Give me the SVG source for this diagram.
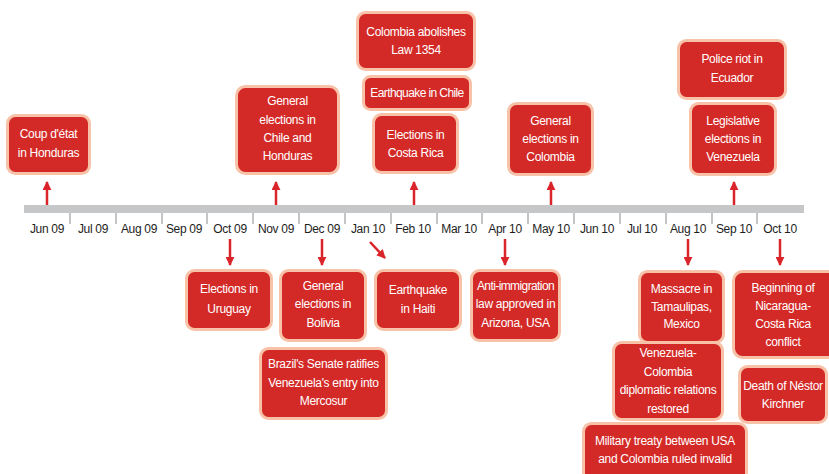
<svg xmlns="http://www.w3.org/2000/svg" width="829" height="474" viewBox="0 0 829 474">
<style>
.box{fill:#d42a27;stroke:#f7c2a8;stroke-width:3}
.t{font-family:"Liberation Sans",Arial,sans-serif;font-size:12px;letter-spacing:-0.3px;fill:#ffffff;text-anchor:middle}
.n{letter-spacing:-0.6px}
.m{font-family:"Liberation Sans",Arial,sans-serif;font-size:12px;letter-spacing:-0.3px;fill:#1e1e1e;text-anchor:middle}
.tick{stroke:#c4c5c7;stroke-width:2}
.arr{stroke:#d9252a;stroke-width:2.5;fill:none}
</style>
<defs>
<marker id="ah" viewBox="0 0 10 10" refX="9" refY="5" markerWidth="3.6" markerHeight="3.6" orient="auto" markerUnits="strokeWidth">
<path d="M0,0 L10,5 L0,10 z" fill="#d9252a"/>
</marker>
</defs>
<rect width="829" height="474" fill="#ffffff"/>
<g id="timeline">
<rect x="24" y="205" width="780" height="8" fill="#c6c7c9"/>
<g class="tick">
<line x1="70" y1="213" x2="70" y2="224"/><line x1="116" y1="213" x2="116" y2="224"/><line x1="162" y1="213" x2="162" y2="224"/><line x1="207" y1="213" x2="207" y2="224"/><line x1="253" y1="213" x2="253" y2="224"/><line x1="299" y1="213" x2="299" y2="224"/><line x1="345" y1="213" x2="345" y2="224"/><line x1="391" y1="213" x2="391" y2="224"/><line x1="437" y1="213" x2="437" y2="224"/><line x1="482" y1="213" x2="482" y2="224"/><line x1="528" y1="213" x2="528" y2="224"/><line x1="574" y1="213" x2="574" y2="224"/><line x1="620" y1="213" x2="620" y2="224"/><line x1="666" y1="213" x2="666" y2="224"/><line x1="712" y1="213" x2="712" y2="224"/><line x1="757" y1="213" x2="757" y2="224"/>
</g>
<g class="m">
<text x="47" y="233">Jun 09</text><text x="93" y="233">Jul 09</text><text x="139" y="233">Aug 09</text><text x="184" y="233">Sep 09</text><text x="230" y="233">Oct 09</text><text x="276" y="233">Nov 09</text><text x="322" y="233">Dec 09</text><text x="368" y="233">Jan 10</text><text x="413" y="233">Feb 10</text><text x="459" y="233">Mar 10</text><text x="505" y="233">Apr 10</text><text x="551" y="233">May 10</text><text x="597" y="233">Jun 10</text><text x="642" y="233">Jul 10</text><text x="688" y="233">Aug 10</text><text x="734" y="233">Sep 10</text><text x="780" y="233">Oct 10</text>
</g>
</g>
<g id="connectors" class="arr">
<line x1="47" y1="205" x2="47" y2="182" marker-end="url(#ah)"/>
<line x1="276" y1="205" x2="276" y2="182" marker-end="url(#ah)"/>
<line x1="414" y1="205" x2="414" y2="182" marker-end="url(#ah)"/>
<line x1="551" y1="205" x2="551" y2="182" marker-end="url(#ah)"/>
<line x1="734" y1="205" x2="734" y2="182" marker-end="url(#ah)"/>
<line x1="230" y1="239" x2="230" y2="265" marker-end="url(#ah)"/>
<line x1="322" y1="239" x2="322" y2="265" marker-end="url(#ah)"/>
<line x1="370" y1="242" x2="385" y2="258" marker-end="url(#ah)"/>
<line x1="505" y1="239" x2="505" y2="265" marker-end="url(#ah)"/>
<line x1="688" y1="239" x2="688" y2="265" marker-end="url(#ah)"/>
<line x1="780" y1="239" x2="780" y2="265" marker-end="url(#ah)"/>
</g>
<g id="coup-honduras"><rect class="box" x="7.5" y="115.5" width="82" height="58" rx="8"/><text class="t" x="48.5" y="138">Coup d'état</text><text class="t" x="48.5" y="157">in Honduras</text></g>
<g id="elections-chile-honduras"><rect class="box" x="236.5" y="86.5" width="102" height="87" rx="9"/><text class="t" x="287.5" y="105">General</text><text class="t" x="287.5" y="123.5">elections in</text><text class="t" x="287.5" y="142">Chile and</text><text class="t" x="287.5" y="160">Honduras</text></g>
<g id="colombia-law"><rect class="box" x="357.5" y="12.5" width="117" height="57" rx="8"/><text class="t" x="416" y="36">Colombia abolishes</text><text class="t" x="416" y="54">Law 1354</text></g>
<g id="earthquake-chile"><rect class="box" x="363.5" y="76.5" width="107" height="33" rx="7"/><text class="t n" x="417" y="97">Earthquake in Chile</text></g>
<g id="elections-costa-rica"><rect class="box" x="373.5" y="114.5" width="84" height="58" rx="8"/><text class="t" x="415.5" y="139">Elections in</text><text class="t" x="415.5" y="157">Costa Rica</text></g>
<g id="elections-colombia"><rect class="box" x="508.5" y="103.5" width="84" height="71" rx="8"/><text class="t" x="550.5" y="125">General</text><text class="t" x="550.5" y="143">elections in</text><text class="t" x="550.5" y="161">Colombia</text></g>
<g id="police-riot-ecuador"><rect class="box" x="678.5" y="40.5" width="107" height="58" rx="8"/><text class="t" x="732" y="63">Police riot in</text><text class="t" x="732" y="82">Ecuador</text></g>
<g id="elections-venezuela"><rect class="box" x="690.5" y="103.5" width="85" height="71" rx="8"/><text class="t" x="733" y="125">Legislative</text><text class="t" x="733" y="143">elections in</text><text class="t" x="733" y="161">Venezuela</text></g>
<g id="elections-uruguay"><rect class="box" x="186.5" y="270.5" width="85" height="59" rx="8"/><text class="t" x="229" y="293">Elections in</text><text class="t" x="229" y="313">Uruguay</text></g>
<g id="elections-bolivia"><rect class="box" x="280.5" y="270.5" width="85" height="70" rx="8"/><text class="t" x="323" y="290">General</text><text class="t" x="323" y="308">elections in</text><text class="t" x="323" y="327">Bolivia</text></g>
<g id="brazil-mercosur"><rect class="box" x="260.5" y="348.5" width="126" height="70" rx="8"/><text class="t" x="323.5" y="368">Brazil's Senate ratifies</text><text class="t" x="323.5" y="387">Venezuela's entry into</text><text class="t" x="323.5" y="405">Mercosur</text></g>
<g id="earthquake-haiti"><rect class="box" x="375.5" y="270.5" width="85" height="59" rx="8"/><text class="t" x="418" y="294">Earthquake</text><text class="t" x="418" y="313">in Haiti</text></g>
<g id="arizona-law"><rect class="box" x="471.5" y="270.5" width="88" height="70" rx="8"/><text class="t n" x="515.5" y="290">Anti-immigration</text><text class="t" x="515.5" y="308">law approved in</text><text class="t" x="515.5" y="327">Arizona, USA</text></g>
<g id="massacre-tamaulipas"><rect class="box" x="639.5" y="271.5" width="84" height="71" rx="8"/><text class="t" x="681.5" y="293">Massacre in</text><text class="t" x="681.5" y="311">Tamaulipas,</text><text class="t" x="681.5" y="328">Mexico</text></g>
<g id="venezuela-colombia"><rect class="box" x="613.5" y="342.5" width="109" height="77" rx="8"/><text class="t" x="668" y="357">Venezuela-</text><text class="t" x="668" y="376">Colombia</text><text class="t" x="668" y="394">diplomatic relations</text><text class="t" x="668" y="413">restored</text></g>
<g id="military-treaty"><rect class="box" x="583.5" y="423.5" width="163" height="60" rx="8"/><text class="t" x="665" y="445">Military treaty between USA</text><text class="t" x="665" y="463">and Colombia ruled invalid</text></g>
<g id="nicaragua-costa-rica"><rect class="box" x="733.5" y="271.5" width="104" height="86" rx="9"/><text class="t" x="783" y="292">Beginning of</text><text class="t" x="783" y="310">Nicaragua-</text><text class="t" x="783" y="328">Costa Rica</text><text class="t" x="783" y="346">conflict</text></g>
<g id="death-kirchner"><rect class="box" x="739.5" y="366.5" width="87" height="56" rx="8"/><text class="t" x="783" y="390">Death of Néstor</text><text class="t" x="783" y="408">Kirchner</text></g>
</svg>
